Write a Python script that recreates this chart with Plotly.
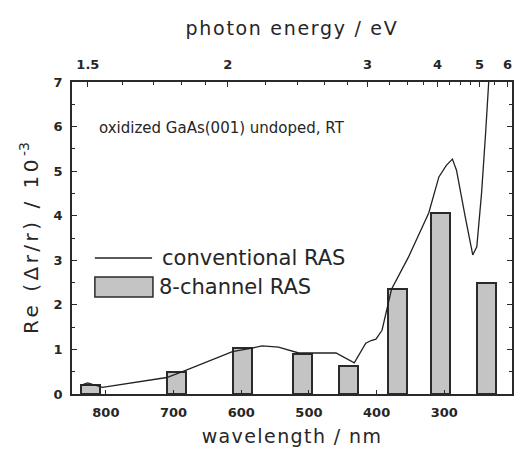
import plotly.graph_objects as go

# ---- data ----
curve_wavelength = [836, 827, 805, 710, 684, 643, 613, 584, 569, 545, 530, 515, 490, 460, 433,
                    416, 408, 401, 392, 386, 378, 353, 323, 308, 297, 288, 282, 269, 258, 252,
                    245, 239, 235, 232]
curve_value = [0.20, 0.25, 0.15, 0.37, 0.52, 0.76, 0.95, 1.03, 1.08, 1.05, 0.98, 0.92, 0.92, 0.92, 0.70,
               1.14, 1.20, 1.23, 1.43, 1.84, 2.35, 3.07, 4.06, 4.87, 5.13, 5.27, 5.02, 3.97, 3.12, 3.30,
               4.50, 5.85, 6.97, 7.60]

bar_wavelength = [822, 695, 598, 510, 441, 369, 306, 238]
bar_value = [0.20, 0.50, 1.03, 0.90, 0.63, 2.35, 4.06, 2.49]

energy_ticks = [1.5, 2, 3, 4, 5, 6]
energy_minor = [1.6, 1.7, 1.8, 1.9, 2.2, 2.4, 2.6, 2.8, 3.25, 3.5, 3.75, 4.25, 4.5, 4.75, 5.5]
wl_ticks = [800, 700, 600, 500, 400, 300, 200]

HC = 1239.84  # eV*nm

FONT = "DejaVu Sans, Verdana, sans-serif"
DARK = "#2a2a2a"
TXT = "#262626"


def spaced(text, px):
    return f'<span style="letter-spacing:{px}px">{text}</span>'


fig = go.Figure()

fig.add_trace(go.Bar(
    x=bar_wavelength, y=bar_value, width=28,
    marker=dict(color="#c4c4c4", line=dict(color=DARK, width=2)),
    showlegend=False,
))
fig.add_trace(go.Scatter(
    x=curve_wavelength, y=curve_value, mode="lines",
    line=dict(color="#222", width=1.3), showlegend=False,
))
# invisible trace for top energy axis
fig.add_trace(go.Scatter(x=[HC / e for e in energy_ticks], y=[0] * len(energy_ticks),
                         xaxis="x2", mode="markers", marker=dict(opacity=0),
                         showlegend=False, hoverinfo="skip"))

tickfont = dict(family=FONT, size=13, color=TXT, weight="bold")
axis_common = dict(showline=True, linecolor=DARK, linewidth=1.5, ticks="inside",
                   tickcolor=DARK, showgrid=False, zeroline=False, tickfont=tickfont,
                   automargin=False)
title_font = dict(family=FONT, size=19, color=TXT)

fig.update_layout(
    width=525, height=450,
    margin=dict(l=72, r=13, t=82, b=56, autoexpand=False),
    paper_bgcolor="white", plot_bgcolor="white",
    bargap=0,
    font=dict(family=FONT, color=TXT),
    xaxis=dict(range=[850, 200], tickvals=wl_ticks, ticklen=4, ticklabelstandoff=6,
               title=dict(text=spaced("wavelength / nm", 1.4), font=title_font, standoff=10),
               **axis_common),
    xaxis2=dict(range=[850, 200], overlaying="x", side="top", matches="x",
                tickvals=[HC / e for e in energy_ticks],
                ticktext=[str(e) for e in energy_ticks], ticklen=5, ticklabelstandoff=6,
                minor=dict(tickvals=[HC / e for e in energy_minor], ticklen=3, ticks="inside",
                           tickcolor=DARK),
                title=dict(text=spaced("photon energy / eV", 1.7), font=title_font, standoff=16),
                **axis_common),
    yaxis=dict(range=[0, 7], dtick=1, ticklen=5, mirror="ticks", ticklabelstandoff=5,
               minor=dict(dtick=0.5, ticklen=3, ticks="inside", tickcolor=DARK),
               title=dict(text=spaced("Re (Δr/r) / 10", 3.5) + "<sup>-3</sup>",
                          font=dict(family=FONT, size=20, color=TXT), standoff=10),
               **axis_common),
)

# sample annotation
fig.add_annotation(text="oxidized GaAs(001) undoped, RT", xref="paper", yref="paper",
                   x=0.341, y=0.888, showarrow=False,
                   font=dict(family=FONT, size=15, color=TXT))

# manual legend
leg_font = dict(family=FONT, size=21, color=TXT)
fig.add_shape(type="line", xref="paper", yref="paper", x0=0.052, x1=0.182, y0=0.436, y1=0.436,
              line=dict(color="#222", width=1.5))
fig.add_annotation(text="conventional RAS", xref="paper", yref="paper", x=0.2, y=0.436,
                   xanchor="left", showarrow=False, font=leg_font)
fig.add_shape(type="rect", xref="paper", yref="paper", x0=0.052, x1=0.184, y0=0.311, y1=0.375,
              fillcolor="#c4c4c4", line=dict(color=DARK, width=1.5))
fig.add_annotation(text="8-channel RAS", xref="paper", yref="paper", x=0.193, y=0.343,
                   xanchor="left", showarrow=False, font=leg_font)

fig.write_html("out.html")
